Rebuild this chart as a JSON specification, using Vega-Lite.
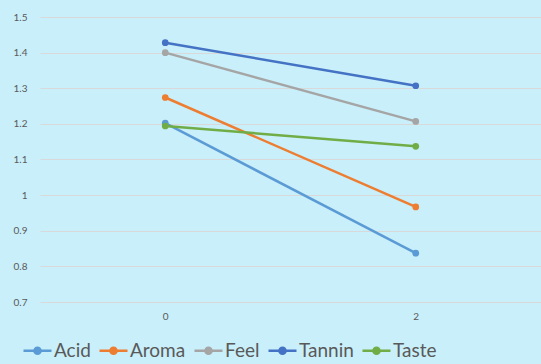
{
  "$schema": "https://vega.github.io/schema/vega-lite/v6.json",
  "width": 501,
  "height": 285,
  "autosize": "none",
  "padding": {"left": 40, "top": 17, "right": 0, "bottom": 62},
  "background": "#C9EFFA",
  "data": {"values": [
    {"x": "0", "series": "Acid", "value": 1.202},
    {"x": "2", "series": "Acid", "value": 0.837},
    {"x": "0", "series": "Aroma", "value": 1.274},
    {"x": "2", "series": "Aroma", "value": 0.967},
    {"x": "0", "series": "Feel", "value": 1.400},
    {"x": "2", "series": "Feel", "value": 1.207},
    {"x": "0", "series": "Tannin", "value": 1.428},
    {"x": "2", "series": "Tannin", "value": 1.307},
    {"x": "0", "series": "Taste", "value": 1.194},
    {"x": "2", "series": "Taste", "value": 1.137}
  ]},
  "mark": {"type": "line", "strokeWidth": 2.5, "point": {"size": 45, "filled": true, "opacity": 1}},
  "encoding": {
    "x": {"field": "x", "type": "ordinal", "scale": {"type": "point", "padding": 0.5},
      "axis": {"title": null, "labelAngle": 0, "domain": false, "ticks": false, "tickSize": 0, "labelPadding": 9, "labelFontSize": 10, "labelColor": "#595959", "labelFont": "Lato", "grid": false}},
    "y": {"field": "value", "type": "quantitative", "scale": {"domain": [0.7, 1.5], "zero": false, "nice": false},
      "axis": {"title": null, "values": [0.7, 0.8, 0.9, 1.0, 1.1, 1.2, 1.3, 1.4, 1.5], "format": ".1~f", "domain": false, "ticks": false, "tickSize": 0, "labelPadding": 13, "labelFontSize": 10, "labelColor": "#595959", "labelFont": "Lato", "grid": true, "gridColor": "#D9D9D9", "gridWidth": 1}},
    "color": {"field": "series", "type": "nominal",
      "scale": {"domain": ["Acid", "Aroma", "Feel", "Tannin", "Taste"], "range": ["#5B9BD5", "#ED7D31", "#A5A5A5", "#4472C4", "#70AD47"]},
      "legend": {"title": null, "orient": "none", "direction": "horizontal", "legendX": -18, "legendY": 318,
        "symbolType": "M-1,0H1M-0.22,0A0.22,0.22 0 1,1 0.22,0A0.22,0.22 0 1,1 -0.22,0Z",
        "symbolSize": 784, "symbolStrokeWidth": 2.5, "symbolFillColor": null,
        "labelFontSize": 19, "labelFont": "Lato", "labelColor": "#595959", "labelOffset": 1, "columnPadding": 3}}
  },
  "config": {"view": {"stroke": null}}
}
